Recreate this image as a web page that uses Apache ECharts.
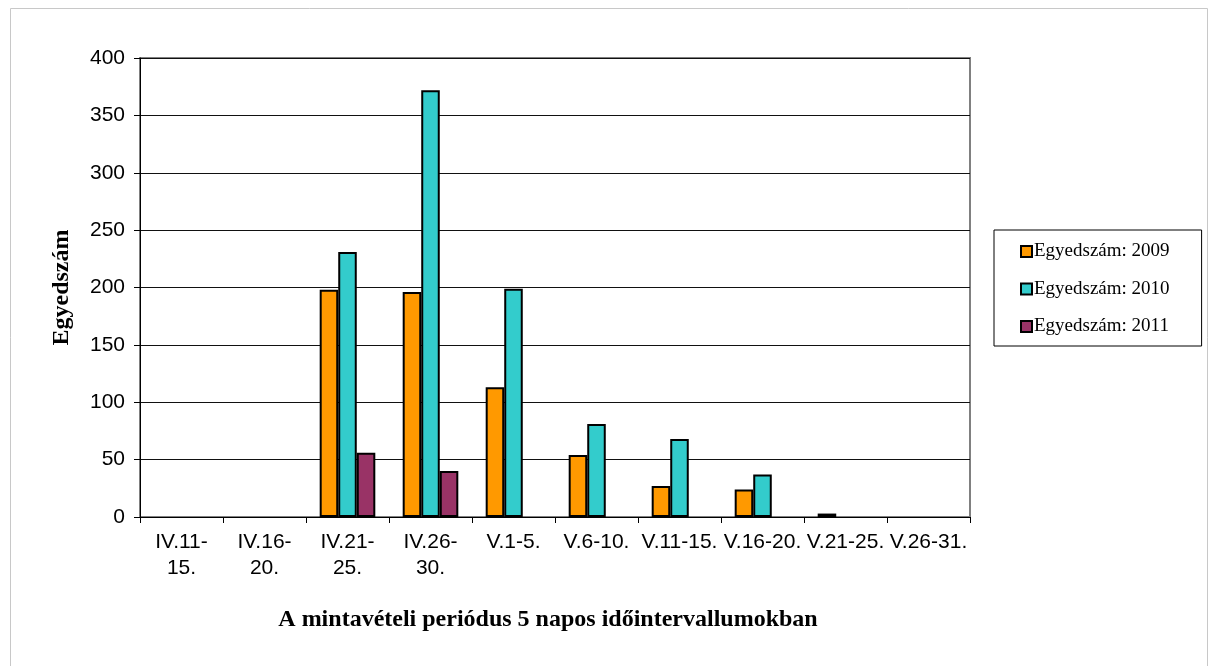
<!DOCTYPE html>
<html>
<head>
<meta charset="utf-8">
<script src="https://cdn.jsdelivr.net/npm/echarts@6/dist/echarts.min.js"></script>
<style>
  html, body { margin: 0; padding: 0; background: #fff; }
  #chart { width: 1209px; height: 666px; }
</style>
</head>
<body>
<div id="chart"></div>
<script>
// Sampling periods (5-day intervals)
const categories = ['IV.11-15.', 'IV.16-20.', 'IV.21-25.', 'IV.26-30.', 'V.1-5.',
  'V.6-10.', 'V.11-15.', 'V.16-20.', 'V.21-25.', 'V.26-31.'];

// Individual counts per year
const counts2009 = [null, null, 198, 196, 113, 54, 27, 24, 3, null];
const counts2010 = [null, null, 231, 372, 199, 81, 68, 37, null, null];
const counts2011 = [null, null, 56, 40, null, null, null, null, null, null];

const seriesNames = ['Egyedszám: 2009', 'Egyedszám: 2010', 'Egyedszám: 2011'];
const seriesColors = ['#FF9900', '#33CCCC', '#993366'];
const seriesData = [counts2009, counts2010, counts2011];

const yTicks = { min: 0, max: 400, interval: 50 };

const chart = echarts.init(document.getElementById('chart'), null, { renderer: 'canvas' });

const option = {
  animation: false,
  backgroundColor: '#fff',
  graphic: [{
    type: 'rect',
    shape: { x: 10.5, y: 8.5, width: 1197, height: 700 },
    style: { fill: 'none', stroke: '#c8c8c8', lineWidth: 1 },
    silent: true,
    z: -1
  }, {
    type: 'text',
    x: 548,
    y: 620,
    style: {
      text: 'A mintavételi periódus 5 napos időintervallumokban',
      font: 'bold 24px "Liberation Serif", "Times New Roman", serif',
      fill: '#000',
      textAlign: 'center',
      textVerticalAlign: 'middle'
    }
  }],
  grid: {
    left: 140, right: 239, top: 58, bottom: 149,
    show: true,
    borderColor: '#808080',
    borderWidth: 2,
    backgroundColor: 'transparent'
  },
  legend: {
    orient: 'vertical',
    left: 994,
    top: 230,
    padding: [12, 32, 10, 26],
    itemGap: 18.5,
    itemWidth: 11,
    itemHeight: 11,
    icon: 'rect',
    borderColor: '#000',
    borderWidth: 1,
    backgroundColor: '#fff',
    data: seriesNames,
    textStyle: {
      fontFamily: '"Liberation Serif", "Times New Roman", serif',
      fontSize: 19,
      color: '#000',
      padding: [0, 0, 0, -3]
    }
  },
  xAxis: {
    type: 'category',
    data: categories,
    axisLine: { show: true, lineStyle: { color: '#000', width: 1 } },
    axisTick: { show: true, length: 6, alignWithLabel: false, lineStyle: { color: '#000' } },
    axisLabel: {
      interval: 0,
      margin: 12,
      fontFamily: '"Liberation Sans", Arial, sans-serif',
      fontSize: 21,
      lineHeight: 26,
      color: '#000',
      formatter: v => v.startsWith('IV.') ? v.replace('-', '-\n') : v
    },
    splitLine: { show: false }
  },
  yAxis: {
    type: 'value',
    min: yTicks.min,
    max: yTicks.max,
    interval: yTicks.interval,
    name: 'Egyedszám',
    nameLocation: 'middle',
    nameRotate: 90,
    nameGap: 66,
    nameTextStyle: {
      fontFamily: '"Liberation Serif", "Times New Roman", serif',
      fontWeight: 'bold',
      fontSize: 24,
      color: '#000'
    },
    axisLine: { show: true, lineStyle: { color: '#000', width: 1 } },
    axisTick: { show: true, length: 6, lineStyle: { color: '#000' } },
    axisLabel: {
      margin: 15,
      fontFamily: '"Liberation Sans", Arial, sans-serif',
      fontSize: 21,
      color: '#000'
    },
    splitLine: { show: true, lineStyle: { color: '#111', width: 1 } }
  },
  series: seriesNames.map((name, i) => ({
    name,
    type: 'bar',
    data: seriesData[i],
    barGap: '0%',
    barCategoryGap: '33%',
    itemStyle: {
      color: seriesColors[i],
      borderColor: '#000',
      borderWidth: 2
    }
  }))
};

chart.setOption(option);
</script>
</body>
</html>
